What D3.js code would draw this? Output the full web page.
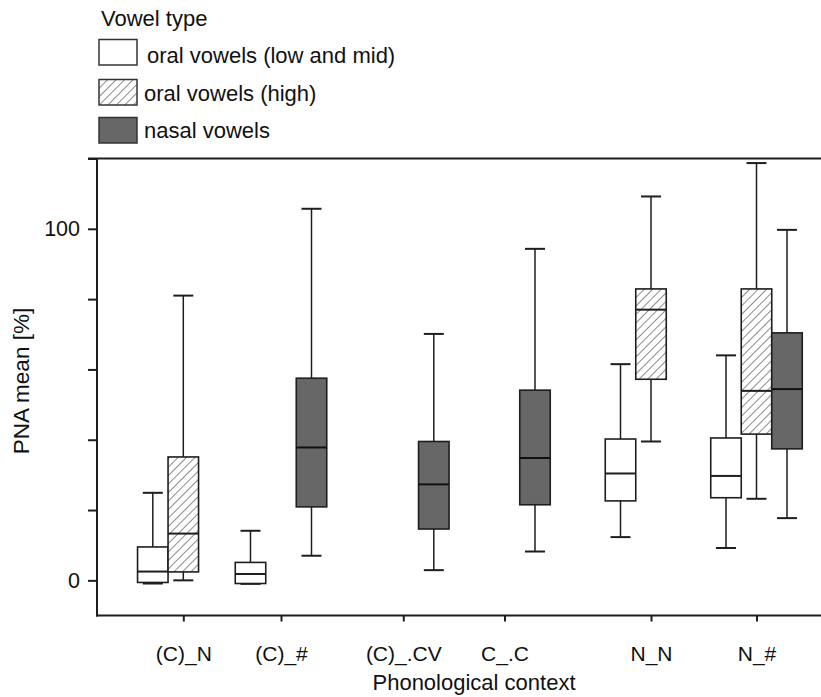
<!DOCTYPE html>
<html>
<head>
<meta charset="utf-8">
<script src="https://cdn.jsdelivr.net/npm/d3@7"></script>
<style>
  html, body { margin: 0; padding: 0; background: #fff; }
  svg { display: block; font-family: "Liberation Sans", Arial, sans-serif; }
</style>
</head>
<body>
<svg id="chart" width="821" height="697"></svg>
<script>
// Phonological contexts on the x axis
const contexts = ["(C)_N", "(C)_#", "(C)_.CV", "C_.C", "N_N", "N_#"];

// Vowel type series
const seriesNames = ["oral vowels (low and mid)", "oral vowels (high)", "nasal vowels"];

// Box statistics per context: [min, q1, median, q3, max]; null = no data
const oralLowMid = [
  [-0.9, -0.6, 2.5, 9.5, 24.9],
  [-1.0, -0.9, 1.8, 5.1, 14.1],
  null,
  null,
  [12.3, 22.6, 30.4, 40.2, 61.5],
  [9.2, 23.5, 29.7, 40.5, 64.0]
];
const oralHigh = [
  [0.0, 2.4, 13.3, 35.1, 81.0],
  null,
  null,
  null,
  [39.5, 57.2, 77.0, 82.9, 109.2],
  [23.2, 41.6, 53.9, 82.9, 118.7]
];
const nasal = [
  null,
  [7.0, 20.9, 37.8, 57.5, 105.7],
  [2.9, 14.6, 27.3, 39.5, 70.1],
  [8.2, 21.5, 34.8, 54.1, 94.3],
  null,
  [17.7, 37.4, 54.4, 70.4, 99.7]
];

// Y axis ticks and labels
const yTicks = [0, 20, 40, 60, 80, 100, 120];
const yTickLabels = ["0", "", "", "", "", "100", ""];

// ---- layout ----
const plot = { left: 97, top: 158.5, bottom: 615.5, right: 821 };
const contextCenters = [183.3, 281, 403.3, 504.5, 651, 756.5];
const boxWidth = 30.5;
const capWidth = 20;
const ink = "#1e1e1e";
const fillFor = ["#ffffff", "url(#hatch)", "#676767"];

const svg = d3.select("#chart");

// diagonal hatch pattern
const defs = svg.append("defs");
const pat = defs.append("pattern")
  .attr("id", "hatch")
  .attr("patternUnits", "userSpaceOnUse")
  .attr("width", 6).attr("height", 6)
  .attr("patternTransform", "rotate(45)");
pat.append("rect").attr("width", 6).attr("height", 6).attr("fill", "#fff");
pat.append("line")
  .attr("x1", 0).attr("y1", 0).attr("x2", 0).attr("y2", 6)
  .attr("stroke", "#2a2a2a").attr("stroke-width", 1.1);

const y = d3.scaleLinear().domain([-10, 120]).range([plot.bottom, plot.top]);
const x = d3.scaleOrdinal().domain(contexts).range(contextCenters);
const offset = d3.scaleBand().domain(d3.range(seriesNames.length))
  .range([-1.5 * boxWidth, 1.5 * boxWidth]).padding(0);

// top frame line
svg.append("line")
  .attr("x1", plot.left - 9).attr("x2", plot.right)
  .attr("y1", y(120)).attr("y2", y(120))
  .attr("stroke", ink).attr("stroke-width", 2);

// left axis
const yAxis = d3.axisLeft(y)
  .tickValues(yTicks)
  .tickSize(9)
  .tickPadding(8)
  .tickFormat((d, i) => yTickLabels[i]);
const gy = svg.append("g")
  .attr("transform", `translate(${plot.left},0)`)
  .call(yAxis);
gy.select(".domain").remove();
gy.append("line")
  .attr("x1", 0).attr("x2", 0)
  .attr("y1", y(120)).attr("y2", plot.bottom + 1)
  .attr("stroke", ink).attr("stroke-width", 2);
gy.selectAll(".tick line").attr("stroke", ink).attr("stroke-width", 2);
gy.selectAll(".tick text")
  .attr("fill", "#111").attr("font-size", 21.5)
  .attr("font-family", "'Liberation Sans', Arial, sans-serif");

// bottom axis
const xAxis = d3.axisBottom(x).tickSize(6).tickPadding(25);
const gx = svg.append("g")
  .attr("transform", `translate(0,${plot.bottom})`)
  .call(xAxis);
gx.select(".domain").remove();
gx.append("line")
  .attr("x1", plot.left - 1).attr("x2", plot.right)
  .attr("y1", 0).attr("y2", 0)
  .attr("stroke", ink).attr("stroke-width", 2);
gx.selectAll(".tick line").attr("stroke", ink).attr("stroke-width", 2);
gx.selectAll(".tick text")
  .attr("fill", "#111").attr("font-size", 21)
  .attr("font-family", "'Liberation Sans', Arial, sans-serif");

// axis titles
svg.append("text")
  .attr("x", 474).attr("y", 690)
  .attr("text-anchor", "middle")
  .attr("font-size", 22).attr("fill", "#111")
  .text("Phonological context");

svg.append("text")
  .attr("transform", "translate(29,381) rotate(-90)")
  .attr("text-anchor", "middle")
  .attr("font-size", 22.5).attr("fill", "#111")
  .text("PNA mean [%]");

// boxes
const allSeries = [oralLowMid, oralHigh, nasal];
const boxes = [];
allSeries.forEach((vals, si) => {
  vals.forEach((s, ci) => {
    if (s) boxes.push({ si, context: contexts[ci], min: s[0], q1: s[1], med: s[2], q3: s[3], max: s[4] });
  });
});

const gBox = svg.append("g").selectAll("g").data(boxes).join("g")
  .attr("transform", d => `translate(${x(d.context) + offset(d.si)},0)`);

// whiskers
gBox.append("line")
  .attr("x1", boxWidth / 2).attr("x2", boxWidth / 2)
  .attr("y1", d => y(d.max)).attr("y2", d => y(d.q3))
  .attr("stroke", ink).attr("stroke-width", 1.5);
gBox.append("line")
  .attr("x1", boxWidth / 2).attr("x2", boxWidth / 2)
  .attr("y1", d => y(d.q1)).attr("y2", d => y(d.min))
  .attr("stroke", ink).attr("stroke-width", 1.5);
gBox.append("line")
  .attr("x1", (boxWidth - capWidth) / 2).attr("x2", (boxWidth + capWidth) / 2)
  .attr("y1", d => y(d.max)).attr("y2", d => y(d.max))
  .attr("stroke", ink).attr("stroke-width", 2);
gBox.append("line")
  .attr("x1", (boxWidth - capWidth) / 2).attr("x2", (boxWidth + capWidth) / 2)
  .attr("y1", d => y(d.min)).attr("y2", d => y(d.min))
  .attr("stroke", ink).attr("stroke-width", 2);

// box body
gBox.append("rect")
  .attr("x", 0).attr("width", boxWidth)
  .attr("y", d => y(d.q3))
  .attr("height", d => y(d.q1) - y(d.q3))
  .attr("fill", d => fillFor[d.si])
  .attr("stroke", ink).attr("stroke-width", 1.6);

// median
gBox.append("line")
  .attr("x1", 0).attr("x2", boxWidth)
  .attr("y1", d => y(d.med)).attr("y2", d => y(d.med))
  .attr("stroke", d => d.si === 2 ? "#111" : ink).attr("stroke-width", 2);

// legend
const legend = svg.append("g");
legend.append("text")
  .attr("x", 101).attr("y", 26)
  .attr("font-size", 22).attr("fill", "#111")
  .text("Vowel type");
const legendRows = [
  { top: 39.5, textX: 147, base: 63 },
  { top: 79.5, textX: 144, base: 101 },
  { top: 117.5, textX: 144, base: 138 }
];
const li = legend.selectAll("g.item").data(seriesNames).join("g").attr("class", "item");
li.append("rect")
  .attr("x", 99).attr("y", (d, i) => legendRows[i].top)
  .attr("width", 38).attr("height", 25.5)
  .attr("fill", (d, i) => fillFor[i])
  .attr("stroke", "#333").attr("stroke-width", 1.5);
li.append("text")
  .attr("x", (d, i) => legendRows[i].textX)
  .attr("y", (d, i) => legendRows[i].base)
  .attr("font-size", 22).attr("fill", "#111")
  .text(d => d);
</script>
</body>
</html>
